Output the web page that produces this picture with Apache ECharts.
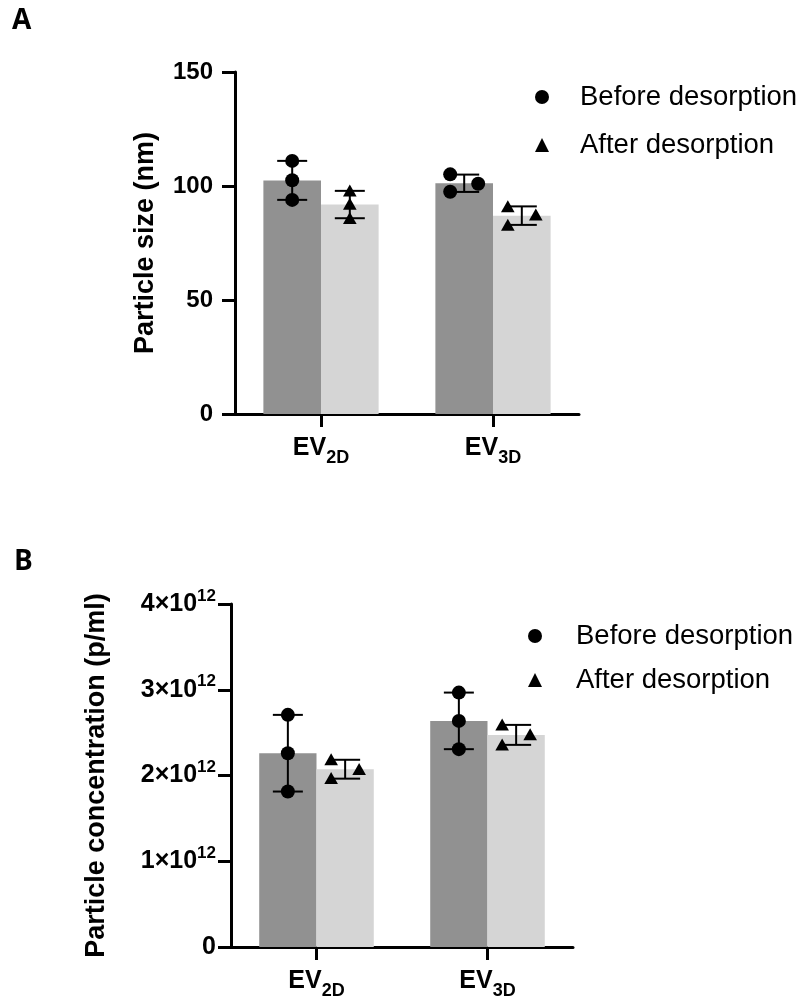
<!DOCTYPE html>
<html>
<head>
<meta charset="utf-8">
<title>Particle size and concentration before/after desorption</title>
<script src="https://cdn.jsdelivr.net/npm/echarts@6/dist/echarts.min.js"></script>
<style>
  html, body { margin: 0; padding: 0; background: #fff; }
  #chart { width: 803px; height: 1002px; }
</style>
</head>
<body>
<div id="chart"></div>
<script>
// ---- data ----
const categories = ['EV2D', 'EV3D'];
const seriesNames = ['Before desorption', 'After desorption'];

// Panel A: particle size (nm), three replicates per group
const sizeBefore = [[111.0, 102.5, 93.9], [105.1, 101.0, 97.5]];
const sizeAfter  = [[97.8, 92.0, 85.8],  [90.9, 87.3, 82.8]];

// Panel B: particle concentration (p/ml), three replicates per group
const concBefore = [[2.707e12, 2.260e12, 1.813e12], [2.967e12, 2.637e12, 2.307e12]];
const concAfter  = [[2.185e12, 2.070e12, 1.965e12], [2.590e12, 2.474e12, 2.357e12]];

// horizontal spread of replicate symbols (-1 left, 0 centre, 1 right)
const spreadSizeBefore = [[0, 0, 0], [-1, 1, -1]];
const spreadSizeAfter  = [[0, 0, 0], [-1, 1, -1]];
const spreadConcBefore = [[0, 0, 0], [0, 0, 0]];
const spreadConcAfter  = [[-1, 1, -1], [-1, 1, -1]];

const sizeTicks = { min: 0, max: 150, interval: 50 };
const concTicks = { min: 0, max: 4e12, interval: 1e12 };

// ---- helpers ----
const mean = a => a.reduce((s, v) => s + v, 0) / a.length;
const sd = a => { const m = mean(a); return Math.sqrt(a.reduce((s, v) => s + (v - m) * (v - m), 0) / (a.length - 1)); };

const DARK = '#919191', LIGHT = '#d5d5d5';
const FONT = "'Liberation Sans', Arial, sans-serif";
const GAP = 0.33;          // barCategoryGap fraction
const SPREAD_PX = 14;      // horizontal spread of replicate symbols

function barOffset(api, side) {
  const band = api.size([1, 0])[0];
  const bw = band * (1 - GAP) / 2;
  return side * bw / 2;
}

function pointSeries(name, axis, reps, spread, side, shape) {
  const data = [];
  reps.forEach((vals, ci) => vals.forEach((v, k) => data.push([ci, v, spread[ci][k]])));
  return {
    type: 'custom', name, xAxisIndex: axis, yAxisIndex: axis, z: 5,
    itemStyle: { color: '#000' },
    data,
    renderItem(params, api) {
      const p = api.coord([api.value(0), api.value(1)]);
      const x = p[0] + barOffset(api, side) + api.value(2) * SPREAD_PX;
      const y = p[1];
      if (shape === 'circle') {
        return { type: 'circle', shape: { cx: x, cy: y, r: 7 }, style: { fill: '#000' } };
      }
      return {
        type: 'polygon',
        shape: { points: [[x, y - 6.5], [x + 6.8, y + 5.5], [x - 6.8, y + 5.5]] },
        style: { fill: '#000' }
      };
    }
  };
}

function errorSeries(axis, reps, side) {
  const data = reps.map((vals, ci) => [ci, mean(vals), sd(vals)]);
  return {
    type: 'custom', xAxisIndex: axis, yAxisIndex: axis, z: 4, silent: true,
    data,
    renderItem(params, api) {
      const ci = api.value(0), m = api.value(1), s = api.value(2);
      const hi = api.coord([ci, m + s]);
      const lo = api.coord([ci, m - s]);
      const x = hi[0] + barOffset(api, side);
      const half = 15;
      const st = { stroke: '#000', lineWidth: 2 };
      return {
        type: 'group',
        children: [
          { type: 'line', shape: { x1: x, y1: hi[1], x2: x, y2: lo[1] }, style: st },
          { type: 'line', shape: { x1: x - half, y1: hi[1], x2: x + half, y2: hi[1] }, style: st },
          { type: 'line', shape: { x1: x - half, y1: lo[1], x2: x + half, y2: lo[1] }, style: st }
        ]
      };
    }
  };
}

function barSeries(axis, reps, color) {
  return {
    type: 'bar', xAxisIndex: axis, yAxisIndex: axis, z: 2, silent: true,
    barGap: '0%', barCategoryGap: (GAP * 100) + '%',
    itemStyle: { color },
    data: reps.map(mean)
  };
}

const axisLine = { show: true, lineStyle: { color: '#000', width: 3 } };
const axisTick = { show: true, length: 13, lineStyle: { color: '#000', width: 3 } };

function xAxis(gi) {
  return {
    type: 'category', gridIndex: gi, data: categories,
    axisLine, axisTick: Object.assign({ alignWithLabel: true }, axisTick),
    axisLabel: {
      margin: 16,
      formatter: c => '{b|EV}{s|' + c.slice(2) + '}',
      rich: {
        b: { fontFamily: FONT, fontWeight: 'bold', fontSize: 25, color: '#000', lineHeight: 37 },
        s: { fontFamily: FONT, fontWeight: 'bold', fontSize: 18, color: '#000', lineHeight: 18, padding: [20, 0, 0, 0] }
      }
    },
    splitLine: { show: false }
  };
}

const legendText = { fontFamily: FONT, fontSize: 27.5, color: '#000', lineHeight: 30 };
const legendData = [
  { name: seriesNames[0], icon: 'circle', itemStyle: { color: '#000' } },
  { name: seriesNames[1], icon: 'triangle', itemStyle: { color: '#000' } }
];

const panelLetter = { fontFamily: "'Open Sans', 'Noto Sans', sans-serif", fontWeight: 'bold', fontSize: 28, fill: '#000' };

const option = {
  animation: false,
  backgroundColor: '#fff',
  graphic: [
    { type: 'text', left: 12, top: 7, style: Object.assign({ text: 'A' }, panelLetter) },
    { type: 'text', left: 14, top: 548, style: Object.assign({ text: 'B' }, panelLetter) }
  ],
  legend: [
    {
      orient: 'vertical', left: 535, top: 82, padding: 0, itemWidth: 14, itemHeight: 14, itemGap: 18,
      selectedMode: false, data: legendData,
      textStyle: Object.assign({ padding: [0, 0, 0, 26] }, legendText)
    },
    {
      orient: 'vertical', left: 528, top: 621, padding: 0, itemWidth: 14, itemHeight: 14, itemGap: 14,
      selectedMode: false, data: legendData,
      textStyle: Object.assign({ padding: [0, 0, 0, 29] }, legendText)
    }
  ],
  grid: [
    { left: 235, top: 72, width: 344, height: 342, containLabel: false },
    { left: 231, top: 604, width: 342, height: 343, containLabel: false }
  ],
  xAxis: [xAxis(0), xAxis(1)],
  yAxis: [
    {
      type: 'value', gridIndex: 0, min: sizeTicks.min, max: sizeTicks.max, interval: sizeTicks.interval,
      name: 'Particle size (nm)', nameLocation: 'middle', nameGap: 76,
      nameTextStyle: { fontFamily: FONT, fontWeight: 'bold', fontSize: 27, color: '#000' },
      axisLine, axisTick, splitLine: { show: false },
      axisLabel: { margin: 22, fontFamily: FONT, fontWeight: 'bold', fontSize: 24, color: '#000' }
    },
    {
      type: 'value', gridIndex: 1, min: concTicks.min, max: concTicks.max, interval: concTicks.interval,
      name: 'Particle concentration (p/ml)', nameLocation: 'middle', nameGap: 121,
      nameTextStyle: { fontFamily: FONT, fontWeight: 'bold', fontSize: 27, color: '#000' },
      axisLine, axisTick, splitLine: { show: false },
      axisLabel: {
        margin: 15,
        formatter: v => v === 0 ? '{b|0}' : '{b|' + Math.round(v / 1e12) + '×10}{s|12}',
        rich: {
          b: { fontFamily: FONT, fontWeight: 'bold', fontSize: 25, color: '#000', lineHeight: 32 },
          s: { fontFamily: FONT, fontWeight: 'bold', fontSize: 17, color: '#000', lineHeight: 17, padding: [0, 0, 16, 0] }
        }
      }
    }
  ],
  series: [
    barSeries(0, sizeBefore, DARK),
    barSeries(0, sizeAfter, LIGHT),
    errorSeries(0, sizeBefore, -1),
    errorSeries(0, sizeAfter, 1),
    pointSeries(seriesNames[0], 0, sizeBefore, spreadSizeBefore, -1, 'circle'),
    pointSeries(seriesNames[1], 0, sizeAfter, spreadSizeAfter, 1, 'triangle'),

    barSeries(1, concBefore, DARK),
    barSeries(1, concAfter, LIGHT),
    errorSeries(1, concBefore, -1),
    errorSeries(1, concAfter, 1),
    pointSeries(seriesNames[0], 1, concBefore, spreadConcBefore, -1, 'circle'),
    pointSeries(seriesNames[1], 1, concAfter, spreadConcAfter, 1, 'triangle')
  ]
};

const chart = echarts.init(document.getElementById('chart'), null, { renderer: 'canvas' });
chart.setOption(option);
</script>
</body>
</html>
